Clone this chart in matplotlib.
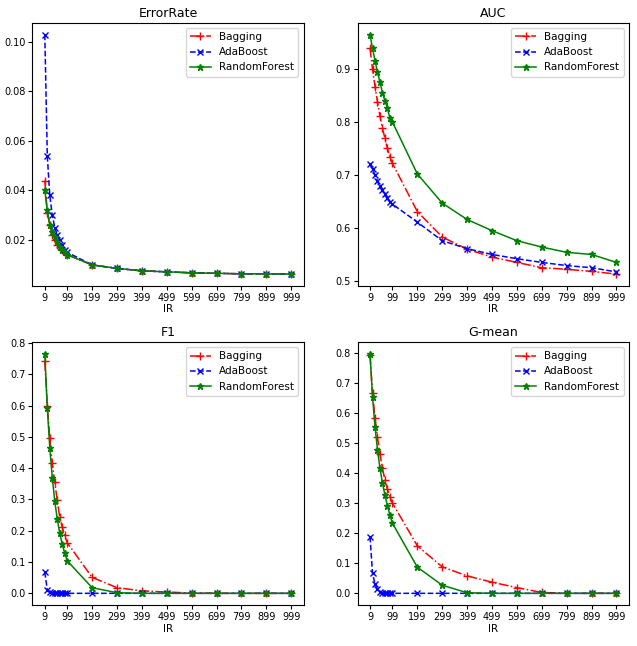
import numpy as np
import matplotlib
matplotlib.use('Agg')
import matplotlib.pyplot as plt

# imbalance ratios
ir = [9, 19, 29, 39, 49, 59, 69, 79, 89, 99,
      199, 299, 399, 499, 599, 699, 799, 899, 999]
xticks = [9, 99, 199, 299, 399, 499, 599, 699, 799, 899, 999]

# ErrorRate
err_bag = [0.044, 0.031, 0.026, 0.022, 0.020, 0.018, 0.017, 0.016, 0.015, 0.014,
           0.0099, 0.0085, 0.0075, 0.0071, 0.0067, 0.0065, 0.0063, 0.0063, 0.0062]
err_ada = [0.103, 0.054, 0.038, 0.030, 0.025, 0.022, 0.020, 0.018, 0.016, 0.015,
           0.0099, 0.0085, 0.0075, 0.0071, 0.0067, 0.0065, 0.0063, 0.0063, 0.0062]
err_rf = [0.040, 0.032, 0.026, 0.023, 0.021, 0.019, 0.017, 0.016, 0.015, 0.014,
          0.0099, 0.0085, 0.0075, 0.0071, 0.0067, 0.0065, 0.0063, 0.0063, 0.0062]

# AUC
auc_bag = [0.940, 0.900, 0.867, 0.838, 0.811, 0.788, 0.769, 0.750, 0.734, 0.722,
           0.631, 0.583, 0.560, 0.545, 0.535, 0.525, 0.522, 0.518, 0.513]
auc_ada = [0.721, 0.711, 0.700, 0.689, 0.680, 0.672, 0.664, 0.657, 0.649, 0.645,
           0.611, 0.576, 0.561, 0.550, 0.542, 0.535, 0.529, 0.525, 0.517]
auc_rf = [0.965, 0.939, 0.916, 0.894, 0.875, 0.855, 0.840, 0.826, 0.807, 0.800,
          0.702, 0.647, 0.616, 0.595, 0.576, 0.564, 0.554, 0.550, 0.535]

# F1
f1_bag = [0.741, 0.600, 0.495, 0.415, 0.355, 0.297, 0.243, 0.212, 0.185, 0.162,
          0.051, 0.018, 0.008, 0.004, 0.001, 0.0, 0.0, 0.0, 0.0]
f1_ada = [0.068, 0.011, 0.003, 0.001, 0.0, 0.0, 0.0, 0.0, 0.0, 0.0,
          0.0, 0.0, 0.0, 0.0, 0.0, 0.0, 0.0, 0.0, 0.0]
f1_rf = [0.765, 0.593, 0.465, 0.370, 0.295, 0.237, 0.193, 0.156, 0.129, 0.104,
         0.018, 0.002, 0.0, 0.0, 0.0, 0.0, 0.0, 0.0, 0.0]

# G-mean
gm_bag = [0.792, 0.665, 0.584, 0.518, 0.462, 0.415, 0.377, 0.346, 0.321, 0.300,
          0.158, 0.088, 0.058, 0.037, 0.019, 0.003, 0.0, 0.0, 0.0]
gm_ada = [0.188, 0.067, 0.031, 0.014, 0.003, 0.0, 0.0, 0.0, 0.0, 0.0,
          0.0, 0.0, 0.0, 0.0, 0.0, 0.0, 0.0, 0.0, 0.0]
gm_rf = [0.796, 0.654, 0.554, 0.477, 0.415, 0.367, 0.326, 0.291, 0.260, 0.233,
         0.087, 0.027, 0.002, 0.0, 0.0, 0.0, 0.0, 0.0, 0.0]

panels = [("ErrorRate", err_bag, err_ada, err_rf),
          ("AUC", auc_bag, auc_ada, auc_rf),
          ("F1", f1_bag, f1_ada, f1_rf),
          ("G-mean", gm_bag, gm_ada, gm_rf)]

fig, axes = plt.subplots(2, 2, figsize=(6.37, 6.46), dpi=100)
fig.subplots_adjust(left=0.051, right=0.987, top=0.965, bottom=0.063,
                    wspace=0.2, hspace=0.212)

for ax, (title, bag, ada, rf) in zip(axes.flat, panels):
    ax.plot(ir, bag, 'r-.', marker='+', lw=1.1, ms=6, label='Bagging')
    ax.plot(ir, ada, 'b--', marker='x', lw=1.1, ms=4.5, label='AdaBoost')
    ax.plot(ir, rf, 'g-', marker='*', lw=1.1, ms=5, label='RandomForest')
    ax.set_title(title, fontsize=9, pad=4)
    ax.set_xlabel('IR', fontsize=7.5, labelpad=1)
    ax.set_xticks(xticks)
    ax.tick_params(labelsize=7, length=3, pad=2)
    ax.legend(loc='upper right', fontsize=7.5)

plt.savefig('out.png')
